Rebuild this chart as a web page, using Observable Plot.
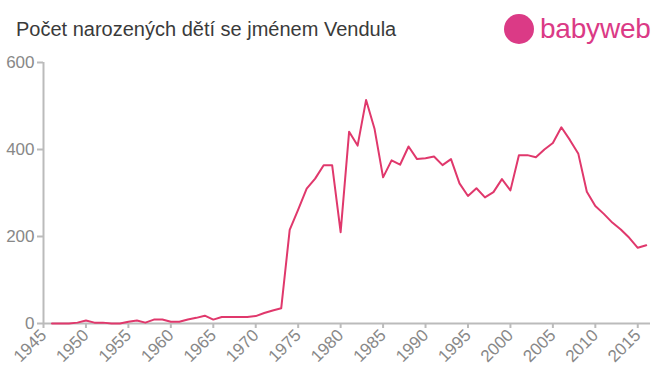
<!DOCTYPE html>
<html>
<head>
<meta charset="utf-8">
<script src="https://cdn.jsdelivr.net/npm/d3@7"></script>
<script src="https://cdn.jsdelivr.net/npm/@observablehq/plot@0.6"></script>
<style>
  html, body { margin: 0; padding: 0; background: #fff; }
  #wrap { position: relative; width: 660px; height: 375px; font-family: "Liberation Sans", Arial, sans-serif; }
  #title { position: absolute; left: 16px; top: 18px; font-size: 20px; color: #3a3a3a; white-space: nowrap; }
  #logo { position: absolute; left: 504px; top: 12px; height: 34px; display: flex; align-items: center; }
  #logo .dot { width: 30px; height: 30px; border-radius: 50%; background: #db3a86; margin-right: 6px; }
  #logo .txt { font-size: 28px; color: #db3a86; font-family: "Liberation Sans", Arial, sans-serif; letter-spacing: -0.2px; }
  #chart { position: absolute; left: 0; top: 0; }
</style>
</head>
<body>
<div id="wrap">
  <div id="chart"></div>
  <div id="title">Počet narozených dětí se jménem Vendula</div>
  <div id="logo"><div class="dot"></div><div class="txt">babyweb</div></div>
</div>
<script>
const years = d3.range(1946, 2017);
const counts = [
  0, 0, 0, 2, 7, 2, 2, 0, 0, 4,          // 1946-1955
  7, 2, 9, 9, 4, 4, 9, 13, 18, 9,        // 1956-1965
  15, 15, 15, 15, 17, 24, 30, 35, 215, 262, // 1966-1975
  310, 333, 364, 364, 210, 441, 409, 514, 447, 336, // 1976-1985
  375, 365, 407, 378, 380, 384, 364, 378, 322, 293, // 1986-1995
  311, 290, 302, 332, 306, 387, 387, 382, 400, 415, // 1996-2005
  451, 422, 390, 303, 270, 252, 232, 216, 197, 174, // 2006-2015
  180                                    // 2016
];
const xTicks = d3.range(1945, 2016, 5);
const yTicks = [0, 200, 400, 600];

const data = years.map((y, i) => ({year: y, count: counts[i]}));

const chart = Plot.plot({
  width: 660,
  height: 375,
  marginLeft: 43,
  marginRight: 10,
  marginTop: 62,
  marginBottom: 52,
  style: {fontFamily: "Liberation Sans, Arial, sans-serif", background: "transparent"},
  x: {domain: [1945, 2016.5]},
  y: {domain: [0, 600]},
  marks: [
    Plot.axisY({ticks: yTicks, tickSize: 6, tickPadding: 3, label: null, fontSize: 17, color: "#888", stroke: "#bbb", strokeWidth: 2, strokeOpacity: 1}),
    Plot.axisX({ticks: xTicks, tickFormat: d => String(d), tickSize: 5, tickPadding: 4, tickRotate: -45, label: null, fontSize: 17, color: "#888", stroke: "#bbb", strokeWidth: 2, strokeOpacity: 1}),
    Plot.ruleX([1945], {stroke: "#bbb", strokeWidth: 2}),
    Plot.ruleY([0], {stroke: "#bbb", strokeWidth: 2}),
    Plot.line(data, {x: "year", y: "count", stroke: "#e0386c", strokeWidth: 2})
  ]
});
document.getElementById("chart").appendChild(chart);
</script>
</body>
</html>
